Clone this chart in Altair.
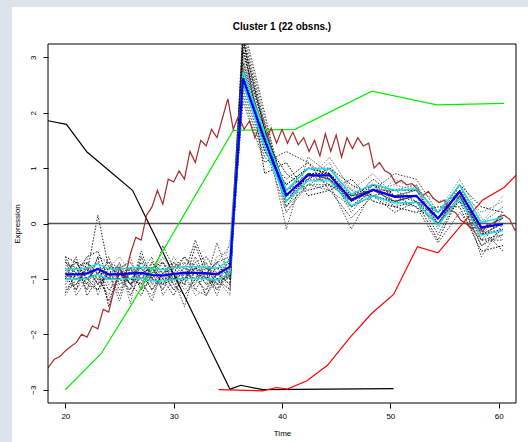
import altair as alt
import pandas as pd

FONT = "Liberation Sans"

# cluster time points
T = [20, 21, 22, 23, 24, 25, 26, 27, 28, 29, 30, 31, 32, 33, 34, 35.2,
     36.4, 38.4, 40.4, 42.4, 44.4, 46.4, 48.4, 50.4, 52.4, 54.4, 56.4, 58.4, 60.4]

MEAN = [-0.92, -0.92, -0.90, -0.82, -0.92, -0.92, -0.90, -0.89, -0.93, -0.94, -0.91, -0.89, -0.89, -0.90, -0.92, -0.78,
        2.62, 1.50, 0.51, 0.87, 0.87, 0.43, 0.61, 0.48, 0.50, 0.09, 0.57, -0.07, -0.01]
UPPER = [-0.82, -0.82, -0.80, -0.73, -0.82, -0.82, -0.80, -0.79, -0.82, -0.83, -0.80, -0.78, -0.78, -0.79, -0.81, -0.66,
         2.74, 1.62, 0.60, 0.99, 0.98, 0.53, 0.71, 0.60, 0.62, 0.19, 0.70, 0.02, 0.11]
LOWER = [-1.01, -1.01, -0.99, -0.92, -1.01, -1.01, -0.99, -0.98, -1.03, -1.04, -1.01, -0.99, -0.99, -1.00, -1.02, -0.90,
         2.52, 1.38, 0.40, 0.77, 0.77, 0.32, 0.50, 0.37, 0.38, -0.03, 0.45, -0.21, -0.13]

OBS = [
    [-0.7, -0.9, -0.6, -0.5, -1.0, -0.8, -1.1, -0.7, -0.9, -1.2, -0.8, -0.6, -0.9, -1.0, -0.8, -0.9, 2.9, 1.6, 0.3, 0.9, 0.8, 0.4, 0.7, 0.5, 0.6, 0.0, 0.6, -0.2, 0.0],
    [-1.1, -0.8, -1.2, -0.9, -0.7, -1.0, -0.8, -1.1, -1.3, -0.9, -1.0, -1.5, -0.8, -0.7, -1.1, -0.6, 3.3, 1.7, 0.6, 1.0, 1.0, 0.5, 0.6, 0.4, 0.5, 0.1, 0.6, -0.1, 0.1],
    [-0.6, -1.0, -0.9, 0.15, -0.8, -1.2, -0.9, -1.0, -0.7, -1.0, -1.3, -0.9, -0.3, -0.8, -0.9, -1.0, 2.4, 1.3, 0.7, 1.0, 0.9, 0.3, 0.6, 0.6, 0.4, 0.2, 0.5, -0.3, -0.2],
    [-1.2, -1.1, -0.8, -1.0, -1.3, -0.7, -1.45, -0.6, -1.0, -1.1, -0.7, -1.0, -1.2, -1.3, -1.0, -1.3, 3.5, 1.9, 0.5, 0.7, 0.9, 0.6, 0.5, 0.3, 0.7, -0.1, 0.7, 0.0, 0.3],
    [-0.9, -0.7, -1.0, -1.2, -0.9, -0.8, -1.3, -0.9, -0.8, -0.7, -0.9, -1.1, -0.4, -0.9, -1.2, -0.8, 2.7, 1.5, 0.9, 0.6, 0.7, 0.4, 0.8, 0.5, 0.3, 0.0, 0.4, -0.4, -0.1],
    [-0.8, -1.2, -0.9, -0.7, -1.1, -0.9, -0.6, -1.2, -1.0, -0.8, -1.2, -0.7, -0.9, -1.1, -0.6, -0.5, 3.1, 1.8, 0.2, 0.8, 1.1, 0.3, 0.6, 0.7, 0.6, 0.2, 0.8, 0.1, -0.3],
    [-1.0, -0.8, -0.7, -1.1, -0.6, -1.1, -1.0, -0.8, -1.2, -0.9, -0.8, -1.0, -0.7, -0.6, -0.9, -1.1, 2.5, 1.4, 0.6, 0.9, 0.7, 0.5, 0.5, 0.4, 0.5, -0.2, 0.5, -0.2, 0.2],
    [-0.65, -1.3, -1.0, -0.8, -0.9, -1.4, -0.8, -0.9, -0.6, -1.3, -1.0, -0.8, -1.0, -0.9, -1.3, -0.7, 2.8, 1.7, -0.1, 1.2, 0.9, 0.2, 0.7, 0.6, 0.7, 0.1, 0.7, -0.3, 0.1],
    [-1.25, -0.9, -1.1, -0.6, -1.5, -0.9, -1.1, -1.3, -0.9, -0.7, -1.1, -1.3, -1.0, -0.8, -1.0, -1.2, 3.4, 0.9, 1.1, 0.5, 0.6, 0.8, 0.4, 0.3, 0.2, 0.3, 0.3, -0.5, -0.4],
    [-0.8, -1.0, -0.6, -1.3, -0.8, -0.6, -0.9, -0.7, -1.1, -1.0, -0.6, -0.9, -1.3, -1.2, -0.7, -0.4, 3.0, 1.5, 0.4, 0.8, 1.2, 0.6, 0.9, 0.5, 0.6, 0.0, 0.6, 0.2, 0.4],
    [-1.0, -0.6, -1.3, -1.0, -1.0, -1.0, -1.2, -0.5, -1.0, -1.1, -0.9, -0.6, -0.8, -1.0, -1.1, -0.9, 2.3, 1.2, 0.8, 1.1, 0.8, 0.3, 0.5, 0.2, 0.4, 0.1, 0.4, -0.1, -0.5],
    [-0.9, -1.1, -0.8, -0.9, -0.7, -0.8, -0.7, -1.0, -1.4, -0.8, -1.0, -1.1, -0.6, -1.0, -0.35, -1.0, 3.6, 2.0, 0.3, 0.7, 0.7, -0.1, 0.6, 0.9, 0.8, 0.2, 0.6, -0.6, 0.0],
    [-1.1, -0.9, -1.0, -0.7, -1.1, -1.2, -1.0, -0.9, -0.8, -1.2, -0.7, -0.8, -1.1, -0.7, -1.2, -0.3, 2.6, 1.6, 0.5, 0.6, 1.0, 0.6, 0.4, 0.8, 0.6, 0.4, 0.5, 0.0, 0.5],
    [-0.7, -0.8, -1.1, -1.2, -0.8, -0.9, -0.8, -1.2, -0.7, -0.9, -1.2, -1.0, -0.9, -1.3, -0.9, -1.1, 3.2, 1.3, 0.7, 1.0, 0.9, 0.5, 0.7, 0.3, 0.4, -0.3, 0.5, -0.2, -0.1],
    [-1.3, -1.0, -0.9, -0.8, -1.0, -0.7, -1.1, -1.0, -0.9, -0.6, -0.9, -1.2, -1.0, -0.8, -1.0, -0.8, 2.9, 1.8, 0.4, 0.9, 0.8, 0.4, 0.6, 0.5, 0.5, 0.1, 0.7, -0.1, 0.1],
    [-0.85, -0.7, -0.8, -1.1, -0.9, -1.1, -0.9, -0.8, -1.0, -0.4, -0.8, -0.7, -1.2, -0.9, -0.7, -0.6, 2.2, 1.1, 1.3, 1.1, 0.6, 0.1, 0.5, 0.4, 0.3, -0.35, 0.2, -0.3, -0.3],
    [-0.95, -1.2, -0.7, -0.9, -1.4, -0.9, -1.0, -1.1, -0.8, -1.1, -1.0, -0.9, -0.8, -1.1, -1.0, -1.0, 3.3, 1.7, 0.6, 0.8, 1.0, 0.7, 0.5, 0.6, 0.6, 0.2, 0.7, 0.3, 0.2],
    [-0.75, -0.9, -1.2, -0.6, -0.7, -1.0, -1.2, -0.6, -1.1, -0.8, -1.1, -1.0, -0.7, -1.0, -1.2, -0.9, 2.7, 1.4, 0.2, 0.7, 0.6, 0.3, 0.7, 0.4, 0.5, 0.0, 0.5, -0.4, -0.2],
    [-1.05, -0.8, -0.9, -1.0, -1.0, -0.8, -0.7, -1.0, -0.9, -1.2, -0.9, -1.1, -1.1, -0.6, -0.8, -1.2, 3.0, 1.6, 0.6, 0.9, 0.9, 0.4, 0.6, 0.5, 0.6, 0.1, 0.6, -0.1, 0.0],
    [-0.9, -1.0, -1.0, -0.8, -1.2, -1.0, -0.9, -0.9, -1.2, -0.9, -0.7, -0.9, -1.0, -1.2, -0.9, -0.7, 3.4, 1.8, 0.5, 0.9, 0.8, 0.5, 0.6, 0.4, 0.5, 0.1, 0.6, -0.2, 0.0],
    [-1.15, -1.1, -0.8, -1.1, -0.9, -1.3, -0.8, -1.0, -1.0, -0.7, -1.0, -0.8, -0.9, -0.8, -1.1, -0.9, 2.8, 1.5, 0.5, 0.8, 0.8, 0.4, 0.6, 0.5, 0.4, 0.0, 0.5, -0.1, 0.0],
    [-0.6, -0.7, -1.0, -0.9, -0.8, -0.8, -1.1, -0.9, -0.8, -1.0, -1.0, -1.0, -0.8, -0.9, -0.7, -1.0, 3.1, 1.7, 0.4, 0.9, 0.9, 0.4, 0.6, 0.5, 0.5, 0.1, 0.6, -0.1, 0.1],
]
GRAYS = ["#000000", "#444444", "#222222", "#666666", "#111111", "#888888", "#333333", "#555555",
         "#000000", "#777777", "#222222", "#444444", "#999999", "#111111", "#666666", "#333333",
         "#000000", "#555555", "#888888", "#222222", "#444444", "#000000"]

# other profiles
BLACK_T = [18.0, 20.1, 22.0, 26.2, 35.2, 36.2, 38.2, 50.3]
BLACK_V = [1.87, 1.79, 1.29, 0.60, -2.99, -2.92, -3.00, -2.98]

GREEN_T = [20.0, 23.3, 26.0, 35.5, 41.2, 48.3, 54.3, 60.5]
GREEN_V = [-3.00, -2.35, -1.50, 1.68, 1.70, 2.39, 2.14, 2.17]

RED_T = [34.15, 38.2, 39.5, 40.5, 42.3, 44.2, 46.3, 48.3, 50.3, 52.5, 54.4, 58.5, 60.5, 62.2]
RED_V = [-3.00, -3.02, -2.96, -2.99, -2.84, -2.56, -2.05, -1.62, -1.28, -0.42, -0.53, 0.42, 0.65, 0.99]

DR_T = [18.0, 18.5, 19.0, 19.5, 20.0, 20.5, 21.0, 21.5, 22.0, 22.5, 23.0, 23.5, 24.0, 24.5, 25.0, 25.5,
        26.0, 26.5, 27.0, 27.5, 28.0, 28.5, 29.0, 29.5, 30.0, 30.5, 31.0, 31.5, 32.0, 32.5, 33.0, 33.5,
        34.0, 34.5, 35.0, 35.5, 36.0, 36.5, 37.0, 37.5, 38.0, 38.5, 39.0, 39.5, 40.0, 40.5, 41.0, 41.5,
        42.0, 42.5, 43.0, 43.5, 44.0, 44.5, 45.0, 45.5, 46.0, 46.5, 47.0, 47.5, 48.0, 48.5, 49.0, 49.5,
        50.0, 50.5, 51.0, 51.5, 52.0, 52.5, 53.0, 53.5, 54.0, 54.5, 55.0, 55.5, 56.0, 56.5, 57.0, 57.5,
        58.0, 58.5, 59.0, 59.5, 60.0, 60.5, 61.0, 61.5, 62.0]
DR_V = [-2.70, -2.58, -2.45, -2.40, -2.30, -2.22, -2.15, -2.00, -2.05, -1.85, -1.90, -1.55, -1.60, -1.20, -0.80, -1.00,
        -0.55, -0.25, -0.30, 0.15, 0.30, 0.60, 0.35, 0.80, 0.75, 0.95, 0.80, 1.30, 1.10, 1.50, 1.40, 1.70,
        1.55, 1.90, 2.25, 1.70, 1.95, 1.70, 1.85, 1.55, 1.80, 1.50, 1.72, 1.45, 1.70, 1.45, 1.65, 1.42,
        1.55, 1.30, 1.50, 1.22, 1.62, 1.30, 1.60, 1.20, 1.55, 1.35, 1.55, 1.40, 1.45, 1.00, 1.10, 0.95,
        0.90, 0.72, 0.78, 0.70, 0.72, 0.62, 0.50, 0.58, 0.45, 0.38, 0.42, 0.24, 0.20, 0.06, 0.00, -0.10,
        -0.05, -0.15, 0.00, -0.05, 0.12, 0.15, 0.08, -0.12, -0.05]

X_TICKS = [20, 30, 40, 50, 60]
Y_TICKS = [-3, -2, -1, 0, 1, 2, 3]
TITLE = "Cluster 1 (22 obsns.)"

# ---- tables ----
names = [f"o{i+1:02d}" for i in range(len(OBS))]
obs_rows = []
for name, series in zip(names, OBS):
    for t, v in zip(T, series):
        obs_rows.append({"t": t, "v": v, "s": name})
df_obs = pd.DataFrame(obs_rows)

df_mean = pd.DataFrame({"t": T, "v": MEAN})
df_up = pd.DataFrame({"t": T, "v": UPPER})
df_lo = pd.DataFrame({"t": T, "v": LOWER})
df_black = pd.DataFrame({"t": BLACK_T, "v": BLACK_V})
df_green = pd.DataFrame({"t": GREEN_T, "v": GREEN_V})
df_red = pd.DataFrame({"t": RED_T, "v": RED_V})
df_dr = pd.DataFrame({"t": DR_T, "v": DR_V})
df_zero = pd.DataFrame({"v": [0]})
df_one = pd.DataFrame({"a": [0]})

W, H = 468, 359

xs = alt.Scale(domain=[18.4, 61.6], nice=False, zero=False)
ys = alt.Scale(domain=[-3.24, 3.24], nice=False, zero=False)

x_axis = alt.Axis(values=X_TICKS, title="Time", domain=False, grid=False, tickSize=5,
                  tickColor="black", tickWidth=1, labelPadding=4, titlePadding=9,
                  labelFont=FONT, titleFont=FONT, labelFontSize=8, titleFontSize=8,
                  titleFontWeight="normal", labelColor="black", titleColor="black",
                  format="d", zindex=1)
y_axis = alt.Axis(values=Y_TICKS, title="Expression", domain=False, grid=False, tickSize=5,
                  tickColor="black", tickWidth=1, labelPadding=6, titlePadding=8,
                  labelAngle=270, labelAlign="center", labelBaseline="bottom",
                  labelFont=FONT, titleFont=FONT, labelFontSize=8, titleFontSize=8,
                  titleFontWeight="normal", labelColor="black", titleColor="black",
                  format="d", zindex=1)

X = alt.X("t:Q", scale=xs, axis=x_axis)
Y = alt.Y("v:Q", scale=ys, axis=y_axis)

bg = alt.Chart(df_one).mark_rect(color="white").encode(
    x=alt.value(-36), x2=alt.value(W + 12), y=alt.value(-37), y2=alt.value(H + 39))

title = alt.Chart(df_one).mark_text(font=FONT, fontSize=10, fontWeight="bold", color="black",
                                    align="center", baseline="middle").encode(
    x=alt.value(W / 2), y=alt.value(-17), text=alt.value(TITLE))

obs = alt.Chart(df_obs).mark_line(strokeDash=[1.5, 1.5], strokeWidth=1, clip=True).encode(
    x=X, y=Y, detail="s:N",
    color=alt.Color("s:N", scale=alt.Scale(domain=names, range=GRAYS), legend=None))

zero = alt.Chart(df_zero).mark_rule(color="#555555", strokeWidth=1.5).encode(
    y=alt.Y("v:Q", scale=ys, axis=y_axis))

def line(df, color, width):
    return alt.Chart(df).mark_line(color=color, strokeWidth=width, clip=True).encode(x=X, y=Y)

black = line(df_black, "black", 1.2)
green = line(df_green, "#00ee00", 1.2)
red = line(df_red, "#ff0000", 1.2)
dred = line(df_dr, "#a52a2a", 1.2)
up = line(df_up, "#00e5ee", 1.3)
lo = line(df_lo, "#00e5ee", 1.3)
mean = line(df_mean, "#0000ff", 2.2)

frame = alt.Chart(df_one).mark_rect(fillOpacity=0, stroke="black", strokeWidth=1).encode(
    x=alt.value(0), x2=alt.value(W), y=alt.value(0), y2=alt.value(H))

chart = alt.layer(bg, title, obs, zero, black, green, red, dred, up, lo, mean, frame).properties(
    width=W, height=H,
    autosize=alt.AutoSizeParams(type="none"),
    padding={"left": 48, "top": 44, "right": 12, "bottom": 39},
).configure(background="#dde3ea").configure_view(strokeWidth=0)

chart.save("out.html", embed_options={"renderer": "svg", "actions": False})
